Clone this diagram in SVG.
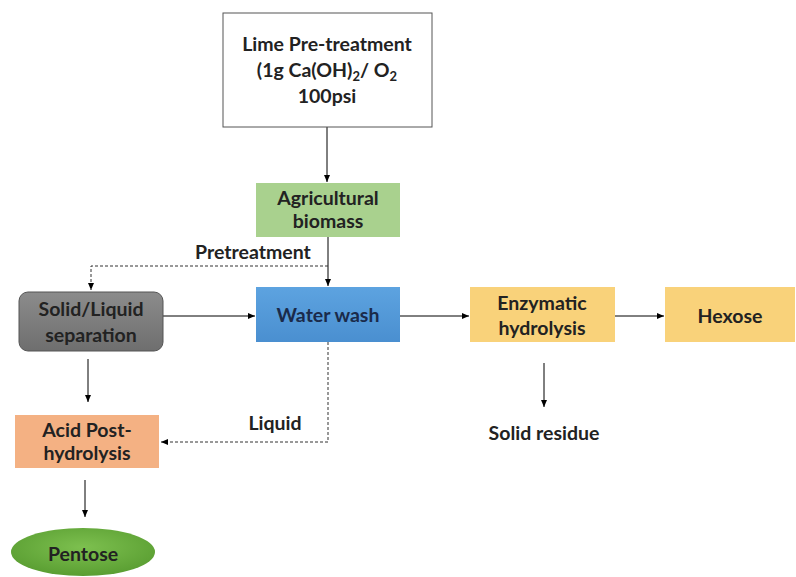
<svg xmlns="http://www.w3.org/2000/svg" width="796" height="577" viewBox="0 0 796 577">
<defs>
<style>
text{font-family:Lato,"Open Sans","Liberation Sans",sans-serif;font-weight:bold;font-size:19.5px;fill:#222;text-anchor:middle}
.ln{stroke:#000;stroke-width:1;fill:none}
.dash{stroke:#333;stroke-width:1;fill:none;stroke-dasharray:3,2}
</style>
<marker id="ah" markerWidth="8" markerHeight="8" refX="7" refY="4" orient="auto" markerUnits="userSpaceOnUse">
<path d="M0,1 L7,4 L0,7 Z" fill="#000"/>
</marker>
<linearGradient id="gGray" x1="0" y1="0" x2="0" y2="1"><stop offset="0" stop-color="#8c8c8c"/><stop offset="1" stop-color="#6e6e6e"/></linearGradient>
<linearGradient id="gBlue" x1="0" y1="0" x2="0" y2="1"><stop offset="0" stop-color="#5da3e0"/><stop offset="1" stop-color="#4a8fd0"/></linearGradient>
<radialGradient id="gGreen" cx="0.5" cy="0.4" r="0.6"><stop offset="0" stop-color="#7dc04f"/><stop offset="1" stop-color="#5a9e32"/></radialGradient>
</defs>
<rect width="796" height="577" fill="#fff"/>
<g id="connectors">
<line class="ln" x1="327" y1="127" x2="327" y2="182" marker-end="url(#ah)"/>
<line class="ln" x1="328" y1="237" x2="328" y2="286" marker-end="url(#ah)"/>
<polyline class="dash" points="328,266 91,266 91,290" marker-end="url(#ah)"/>
<line class="ln" x1="163" y1="316" x2="255" y2="316" marker-end="url(#ah)"/>
<line class="ln" x1="400" y1="316" x2="469" y2="316" marker-end="url(#ah)"/>
<line class="ln" x1="615" y1="316" x2="664" y2="316" marker-end="url(#ah)"/>
<line class="ln" x1="544" y1="363" x2="544" y2="407" marker-end="url(#ah)"/>
<line class="ln" x1="88" y1="359" x2="88" y2="402" marker-end="url(#ah)"/>
<polyline class="dash" points="328,342 328,442 161,442" marker-end="url(#ah)"/>
<line class="ln" x1="85" y1="480" x2="85" y2="517" marker-end="url(#ah)"/>
<text x="253" y="259">Pretreatment</text>
<text x="275" y="430">Liquid</text>
<text x="544" y="440">Solid residue</text>
</g>
<g id="lime">
<rect x="223" y="13" width="209" height="114" fill="#fff" stroke="#555" stroke-width="1"/>
<text x="327" y="51">Lime Pre-treatment</text>
<text x="327" y="77">(1g Ca(OH)<tspan font-size="13" dy="4">2</tspan><tspan dy="-4">/ O</tspan><tspan font-size="13" dy="4">2</tspan></text>
<text x="327" y="103">100psi</text>
</g>
<g id="agri">
<rect x="256" y="183" width="144" height="54" fill="#a9d18e"/>
<text x="328" y="205">Agricultural</text>
<text x="328" y="228">biomass</text>
</g>
<g id="sep">
<rect x="19" y="292" width="144" height="59" rx="9" fill="url(#gGray)" stroke="#555" stroke-width="1"/>
<text x="91" y="316">Solid/Liquid</text>
<text x="91" y="342">separation</text>
</g>
<g id="wash">
<rect x="256" y="287" width="144" height="55" fill="url(#gBlue)"/>
<text x="328" y="322" style="fill:#1a2a4a">Water wash</text>
</g>
<g id="enz">
<rect x="470" y="287" width="145" height="55" fill="#f9d27a"/>
<text x="542" y="310">Enzymatic</text>
<text x="542" y="335">hydrolysis</text>
</g>
<g id="hexose">
<rect x="665" y="287" width="130" height="55" fill="#f9d27a"/>
<text x="730" y="323">Hexose</text>
</g>
<g id="acid">
<rect x="15" y="415" width="144" height="53" fill="#f4b183"/>
<text x="87" y="437">Acid Post-</text>
<text x="87" y="460">hydrolysis</text>
</g>
<g id="pentose">
<ellipse cx="83" cy="552" rx="72" ry="24" fill="url(#gGreen)"/>
<text x="83" y="561">Pentose</text>
</g>
</svg>
